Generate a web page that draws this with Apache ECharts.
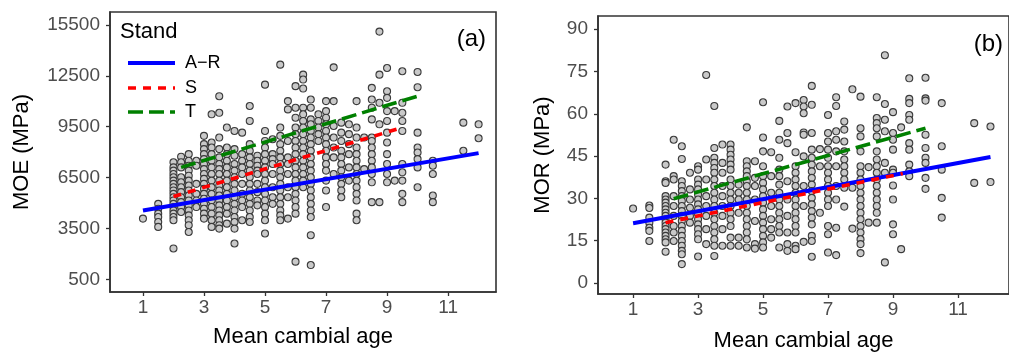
<!DOCTYPE html>
<html>
<head>
<meta charset="utf-8">
<script src="https://cdn.jsdelivr.net/npm/echarts@6/dist/echarts.min.js"></script>
<style>
html,body{margin:0;padding:0;background:#fff;}
#chart{width:1009px;height:357px;}
</style>
</head>
<body>
<div id="chart"></div>
<script>
// ---------- Data ----------
const xTicks = [1, 3, 5, 7, 9, 11];
const moeTicks = [500, 3500, 6500, 9500, 12500, 15500];
const morTicks = [0, 15, 30, 45, 60, 75, 90];
const standNames = ['A\u2212R', 'S', 'T'];

// Panel (a): MOE (MPa) by mean cambial age
const moeAges = [1, 1.5, 2, 2.25, 2.5, 2.75, 3, 3.25, 3.5, 3.75, 4, 4.25, 4.5, 4.75, 5, 5.25, 5.5, 5.75, 6, 6.25, 6.5, 6.75, 7, 7.25, 7.5, 7.75, 8, 8.25, 8.5, 8.75, 9, 9.25, 9.5, 10, 10.5, 11.5, 12];
const moeValues = [
  [4080],
  [4950,4660,4370,4170,3880,3590],
  [7400,7100,6910,6710,6520,6320,6130,5930,5740,5540,5340,5150,4950,4760,4560,4370,4170,3980,2320],
  [7730,7400,7100,6520,6220,5930,5640,5340,5050,4760,4470],
  [7880,7490,7200,6910,6610,6320,6030,5740,5440,5150,4860,4560,4270,3980,3690,3290],
  [7490,7200,6130,5540,5150,4760],
  [8960,8470,8180,7880,7590,7300,7000,6710,6420,6130,5830,5540,5250,4950,4660,4370,4080],
  [10230,8570,8270,7880,7490,7100,6710,6320,5930,5540,5150,4760,4370,3980,3590],
  [11300,10320,8860,8180,7690,7300,7000,6710,6320,6030,5740,5440,5150,4860,4560,4270,3980,3690,3490],
  [9450,8270,7880,7490,7100,6710,6320,5930,5540,5150,4760,4370,3780],
  [9250,8180,7790,7300,6910,6520,6130,5740,5340,4950,4560,4170,3880,3490,2610],
  [9150,7880,7490,7100,6710,6130,5540,5150,4760,3980],
  [10720,9840,8470,8080,7690,7300,6910,6520,6130,5740,5340,4950,4560,4170,3880],
  [7790,7490,7200,6910,6710,6130,5640,5150,4860],
  [11980,9250,8660,8270,7880,7490,7100,6710,6320,5930,5540,5150,4760,4370,3980,3200],
  [8760,7880,7590,7300,6710,5930,5340,4950],
  [13160,9450,8960,8470,8080,7690,7300,6910,6520,6130,5740,5340,4950,4560,4270,3980],
  [11010,10520,8660,7690,7300,6710,5930,5340,4080],
  [11890,10620,10030,9450,9060,8660,8270,7880,7490,7100,6710,6320,5930,5540,5150,4760,4370,1540],
  [12570,12280,11750,10620,10230,9840,9450,9060,8660,8270,7880,7490,7100,6710,6320,5930],
  [11100,10620,9930,9640,9250,8860,8470,8080,7690,7300,6910,6520,6130,5740,5340,4950,4560,4170,3100,1340],
  [10230,9840,9450,9060,8660],
  [11010,10420,10030,9640,9250,8860,8470,8080,7690,7300,6910,6320,5740,4760],
  [13000,11010,9540,8860,8270,7690,6710],
  [9740,9150,8660,8080,7690,7300,6910,6520,6130,5740,5340],
  [9640,9060,8470,7880,7100,6320],
  [11010,9450,8860,8270,7880,7490,7100,6710,6320,5930,5540,5150,4370,3980],
  [8860,7000],
  [11790,11100,10620,9930,8860,8660,8270,7880,7490,7100,6710,6220,5050],
  [15110,12570,10910,9640,5050],
  [12960,11590,11200,10420,9840,9150,8570,7880,7300,6710,6220],
  [10420,6320],
  [12770,10910,10320,9840,9250,7300,6810,6320,5540,5050],
  [12730,11830,9150,8270,7980,7590,7100,5930],
  [7490,7200,6710,5440,5050],
  [9740,8080],
  [9640,8820]
];

// Panel (b): MOR (MPa) by mean cambial age
const morAges = [1, 1.5, 2, 2.25, 2.5, 2.75, 3, 3.25, 3.5, 3.75, 4, 4.25, 4.5, 4.75, 5, 5.25, 5.5, 5.75, 6, 6.25, 6.5, 6.75, 7, 7.25, 7.5, 7.75, 8, 8.25, 8.5, 8.75, 9, 9.25, 9.5, 10, 10.5, 11.5, 12];
const morValues = [
  [26.4],
  [27.5,26.6,23.2,21.4,19.6,18.5,14.9],
  [42.0,36.1,35.5,30.8,29.6,28.5,27.3,26.1,24.9,23.8,22.6,21.4,20.2,19.1,17.9,16.7,15.5,14.4,11.1],
  [50.8,37.9,36.7,30.8,27.3,23.8,20.2,17.9,14.9],
  [48.5,44.0,36.1,34.4,32.6,30.8,29.1,27.3,25.5,23.8,22.0,20.2,18.5,16.7,14.9,13.2,11.4,10.2,6.7],
  [39.1,33.2,29.6,26.7,23.8,21.4],
  [41.4,40.2,36.7,34.9,33.2,31.4,29.6,27.9,26.1,24.4,22.6,20.8,19.1,17.3,15.5,9.4],
  [73.8,43.8,36.7,30.8,27.3,23.8,19.1,13.8],
  [62.8,47.9,44.4,42.6,40.8,39.1,36.7,34.4,32.0,29.6,27.3,24.9,22.6,20.2,17.9,15.5,13.2,9.6],
  [49.1,42.6,39.1,34.4,30.8,27.3,23.8,19.1,13.2],
  [49.1,47.3,45.5,43.8,42.0,40.2,36.7,34.4,32.0,29.6,27.3,24.9,22.6,20.2,16.1,13.2],
  [34.9,32.0,29.6,24.9,16.1,13.2],
  [55.2,43.2,41.4,39.6,37.9,36.1,34.4,32.0,29.6,27.3,24.9,22.6,20.2,17.9,15.5,12.6],
  [43.2,37.3,34.4,29.6,22.0,13.8,12.2],
  [64.1,51.6,46.7,41.4,37.9,35.5,33.2,30.8,28.5,26.1,23.8,21.4,19.1,16.7,14.4,12.6],
  [46.4,37.9,32.0,27.3,22.6,19.1,16.1],
  [57.5,50.8,44.4,40.2,37.9,34.9,32.0,29.6,27.3,24.9,22.6,20.2,17.9,12.6],
  [62.6,53.2,49.6,36.1,29.6,23.8,17.9,13.8,11.4],
  [63.8,46.4,41.4,39.1,36.7,34.4,32.0,29.6,27.3,24.9,22.6,20.2,17.9,13.2,12.0],
  [64.9,62.6,60.2,53.4,52.6,44.9,34.4,27.3,14.6],
  [69.9,63.2,53.2,47.3,44.4,42.0,39.6,37.3,34.9,32.6,30.2,27.9,25.5,23.2,20.8,16.7,14.9,9.3],
  [47.5,41.4,24.9],
  [59.6,53.2,50.2,47.3,44.4,41.4,39.1,36.7,34.4,32.0,29.6,27.3,20.2,17.3,10.8],
  [65.9,62.8,53.8,50.8,46.7,41.4,34.4,29.6,19.6,9.9],
  [57.3,54.4,50.2,46.7,43.8,41.4,39.1,36.7,33.8,27.1],
  [68.7,33.8,19.3],
  [66.1,54.9,52.0,46.7,41.4,39.1,36.7,34.4,32.0,29.6,27.3,24.9,22.6,20.2,17.9,15.5,13.8,10.6],
  [41.1,21.4],
  [65.9,58.5,56.7,54.9,52.0,46.7,43.8,41.4,39.1,36.7,34.4,32.0,29.6,27.3,24.9,21.4],
  [80.8,63.5,57.9,53.8,42.6,39.1,7.3],
  [60.6,53.2,50.8,47.3,40.2,39.1,34.6,29.6,20.8,17.3],
  [55.2,12.0],
  [72.6,65.3,63.8,59.6,57.9,49.6,47.3,42.0,39.6,37.9],
  [72.8,65.5,64.7,52.6,47.9,44.4,42.6,37.3,33.4],
  [63.8,48.5,40.2,30.2,23.2],
  [56.7,35.5],
  [55.5,35.8]
];

// Fitted lines per stand: [[ageStart, valueStart], [ageEnd, valueEnd]]
const moeFitAR = [[1, 4560], [12, 7940]];
const moeFitS  = [[2, 5380], [9.5, 9450]];
const moeFitT  = [[2.25, 7100], [10, 11300]];
const morFitAR = [[1, 21.2], [12, 44.7]];
const morFitS  = [[2, 21.4], [9.3, 38.8]];
const morFitT  = [[2.25, 29.9], [10, 54.9]];

// ---------- Build ----------
function toPoints(ages, vals) {
  const pts = [];
  ages.forEach((a, i) => vals[i].forEach(v => pts.push([a, v])));
  return pts;
}

const FONT = "'Liberation Sans', Arial, Helvetica, sans-serif";
const AXIS_COLOR = '#333333';
const TICK_LABEL_COLOR = '#4d4d4d';
const lineStyles = [
  { color: '#0000ff', width: 4, type: 'solid' },
  { color: '#ff0000', width: 3.6, type: [8, 7] },
  { color: '#008000', width: 3.6, type: [15, 6] }
];
const plain = v => String(v);

function makeX(gi, gap) {
  return {
    gridIndex: gi, type: 'value', min: -0.08, max: 12.57,
    name: 'Mean cambial age', nameLocation: 'middle', nameGap: gap,
    nameTextStyle: { fontFamily: FONT, fontSize: 22, color: '#000' },
    axisLine: { show: true, onZero: false, lineStyle: { color: AXIS_COLOR, width: 1.6 } },
    axisTick: { show: true, length: 4, customValues: xTicks, lineStyle: { color: AXIS_COLOR, width: 1.3 } },
    axisLabel: { customValues: xTicks, formatter: plain, color: TICK_LABEL_COLOR, fontFamily: FONT, fontSize: 19, margin: 6 },
    splitLine: { show: false }
  };
}
function makeY(gi, min, max, ticks, name, gap) {
  return {
    gridIndex: gi, type: 'value', min: min, max: max,
    name: name, nameLocation: 'middle', nameGap: gap,
    nameTextStyle: { fontFamily: FONT, fontSize: 22, color: '#000' },
    axisLine: { show: true, onZero: false, lineStyle: { color: AXIS_COLOR, width: 1.6 } },
    axisTick: { show: true, length: 4, customValues: ticks, lineStyle: { color: AXIS_COLOR, width: 1.3 } },
    axisLabel: { customValues: ticks, formatter: plain, color: TICK_LABEL_COLOR, fontFamily: FONT, fontSize: 19, margin: 10 },
    splitLine: { show: false }
  };
}

function scatter(gi, data) {
  return {
    type: 'scatter', xAxisIndex: gi, yAxisIndex: gi, data: data,
    symbol: 'circle', symbolSize: 7,
    itemStyle: { color: '#c9c9c9', borderColor: '#3a3a3a', borderWidth: 1.1, opacity: 1 },
    emphasis: { disabled: true }, silent: true, z: 2
  };
}
function fit(gi, data, k) {
  return {
    type: 'line', xAxisIndex: gi, yAxisIndex: gi, data: data, name: standNames[k],
    showSymbol: false, symbol: 'none', lineStyle: lineStyles[k],
    emphasis: { disabled: true }, silent: true, z: 5
  };
}

// legend (panel a) drawn as graphic elements
const legendGraphic = [
  { type: 'text', left: 120, top: 21, style: { text: 'Stand', font: '22px ' + FONT, fill: '#000' } }
];
const legendRows = [63, 88, 112];
standNames.forEach((n, k) => {
  const ls = lineStyles[k];
  legendGraphic.push({
    type: 'line', shape: { x1: 128, y1: legendRows[k], x2: 175, y2: legendRows[k] },
    style: { stroke: ls.color, lineWidth: ls.width, lineDash: Array.isArray(ls.type) ? ls.type : null }
  });
  legendGraphic.push({
    type: 'text', x: 185, y: legendRows[k],
    style: { text: n, font: '18px ' + FONT, fill: '#000', verticalAlign: 'middle', textAlign: 'left' }
  });
});
legendGraphic.push({ type: 'text', x: 486, y: 39, style: { text: '(a)', font: '24px ' + FONT, fill: '#000', textAlign: 'right', verticalAlign: 'middle' } });
legendGraphic.push({ type: 'text', x: 1003, y: 44, style: { text: '(b)', font: '24px ' + FONT, fill: '#000', textAlign: 'right', verticalAlign: 'middle' } });

const option = {
  animation: false,
  backgroundColor: '#ffffff',
  textStyle: { fontFamily: FONT },
  grid: [
    { left: 110, top: 12, width: 386, height: 280, show: true, borderColor: AXIS_COLOR, borderWidth: 1.6, backgroundColor: 'transparent', containLabel: false },
    { left: 598, top: 16, width: 419, height: 279, show: true, borderColor: AXIS_COLOR, borderWidth: 1.6, backgroundColor: 'transparent', containLabel: false }
  ],
  xAxis: [makeX(0, 34), makeX(1, 36)],
  yAxis: [
    makeY(0, -250, 16265, moeTicks, 'MOE (MPa)', 77),
    makeY(1, -3.9, 94.7, morTicks, 'MOR (MPa)', 44)
  ],
  series: [
    scatter(0, toPoints(moeAges, moeValues)),
    scatter(1, toPoints(morAges, morValues)),
    fit(0, moeFitAR, 0), fit(0, moeFitS, 1), fit(0, moeFitT, 2),
    fit(1, morFitAR, 0), fit(1, morFitS, 1), fit(1, morFitT, 2)
  ],
  graphic: legendGraphic
};

const chart = echarts.init(document.getElementById('chart'), null, { renderer: 'canvas' });
chart.setOption(option);
</script>
</body>
</html>
